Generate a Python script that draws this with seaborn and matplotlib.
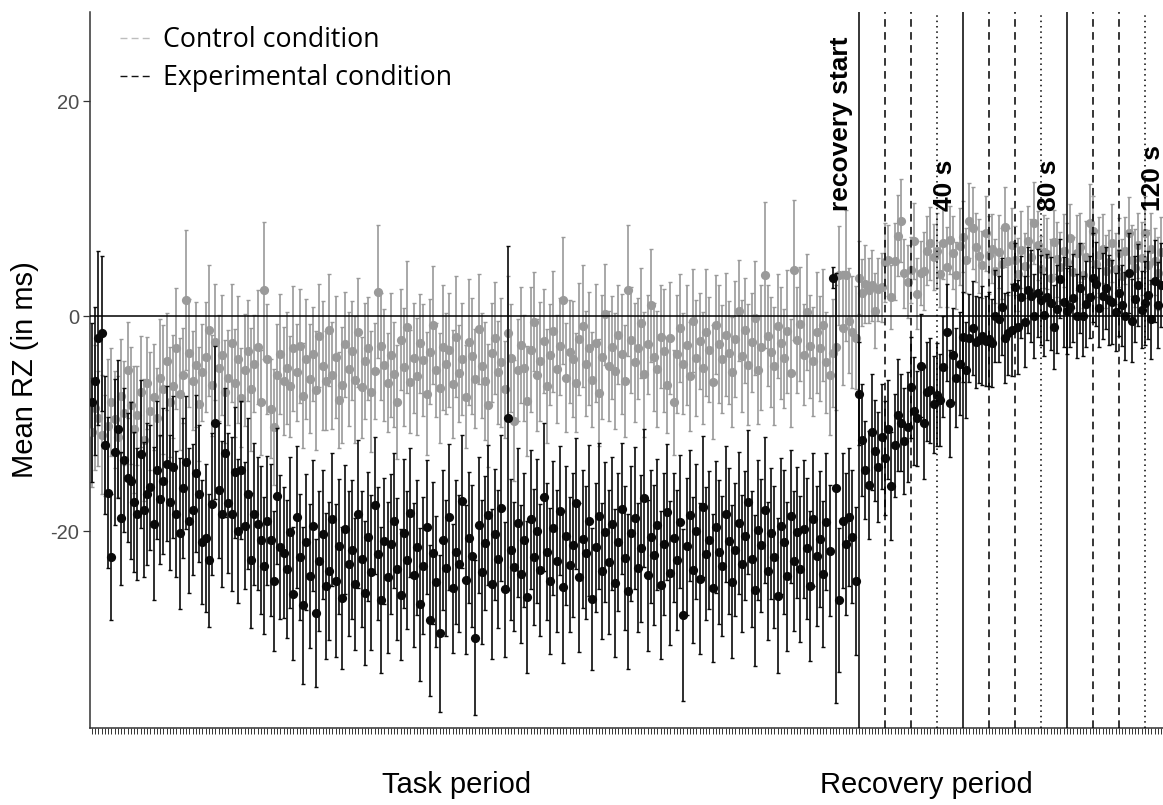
import numpy as np
import pandas as pd
import matplotlib
matplotlib.use("Agg")
import matplotlib.pyplot as plt
import seaborn as sns
from matplotlib.lines import Line2D
from matplotlib.font_manager import FontProperties

# ---------------- data ----------------
N_TASK = 236          # number of task-period samples
N_REC = 94            # number of recovery-period samples

control_mean_task = [
    -10.8, -8.5, -9.5, -11.0, -12.0, -10.2, -8.0, -9.6, -11.2, -7.4, -9.0, -5.0, -8.3, -10.5, -9.2, -7.0, -11.5, -6.2, -8.8, -7.5,
    -9.5, -5.7, -6.8, -4.2, -8.0, -6.5, -3.0, -7.2, -5.5, 1.5, -3.4, -6.0, -4.5, -8.2, -5.2, -3.8, -1.3, -6.4, -2.4, -4.8,
    -3.6, -7.0, -5.7, -2.5, -6.2, -4.0, -7.6, -5.0, -3.2, -6.8, -4.4, -2.9, -8.0, 2.4, -4.0, -8.6, -10.3, -5.5, -3.5, -6.0,
    -4.8, -6.5, -3.0, -5.2, -2.8, -7.4, -4.0, -5.8, -3.5, -6.9, -1.8, -4.6, -6.0, -1.3, -5.5, -3.8, -7.8, -6.4, -2.6, -4.9,
    -3.2, -5.9, -1.5, -6.6, -4.2, -3.0, -7.0, -5.1, 2.3, -2.8, -4.5, -6.2, -3.6, -5.4, -8.0, -2.2, -4.7, -1.0, -6.1, -3.9,
    -5.6, -2.5, -4.1, -7.2, -3.3, -0.8, -5.0, -6.7, -2.9, -4.4, -3.1, -6.3, -1.9, -5.3, -4.0, -7.5, -2.4, -3.7, -5.8, -1.2,
    -4.6, -6.0, -8.3, -3.4, -2.0, -5.2, -4.3, -6.8, -1.6, -3.9, -9.7, -5.0, -2.7, -4.8, -7.9, -3.1, -0.5, -5.5, -4.2, -2.3,
    -6.5, -3.6, -1.4, -4.9, -2.8, 1.5, -5.7, -3.3, -4.0, -6.2, -2.1, -0.9, -4.4, -3.0, -5.9, -2.5, -7.1, -3.8, 0.2, -4.6,
    -2.9, -5.1, -1.7, -3.5, -6.0, 2.4, -2.2, -4.3, -3.0, -0.6, -5.4, -2.6, 1.0, -3.8, -4.9, -1.9, -3.2, -6.4, -2.0, -8.0,
    -3.5, -1.1, -4.4, -2.7, -5.6, -0.4, -3.9, -2.3, -4.8, -1.5, -3.1, -6.1, -0.8, -2.6, -4.0, -1.7, -3.4, -5.2, -2.1, 0.5,
    -3.7, -1.3, -4.5, -2.4, -0.2, -5.0, -2.9, 3.8, -1.8, -3.3, -4.6, -0.9, -2.5, -3.9, -1.4, -5.3, 4.3, -2.2, -0.7, -3.6,
    0.4, -2.8, -4.2, -1.5, -3.0, -0.8, -4.3, -5.5, -3.4, -2.9, 3.8, -1.1, 3.8, -0.4, -1.5, -2.0,
]
control_mean_rec = [
    3.6, 2.2, 3.0, 2.4, 2.9, 0.5, 2.5, 2.7,
    5.0, 5.2, 1.8, 5.1, 7.5, 8.9, 4.0, 3.2,
    4.3, 7.0, 2.1, 4.0, 4.2, 6.1, 6.8, 5.5,
    6.1, 3.9, 6.8, 4.6, 7.1, 5.9, 3.8, 6.5,
    7.4, 5.2, 8.9, 8.2, 6.4, 5.6, 4.8, 7.7,
    5.7, 6.3, 4.2, 6.0, 4.9, 8.3, 5.1, 6.6,
    5.2, 3.9, 6.2, 4.7, 7.0, 5.5, 8.7, 6.6,
    4.4, 6.0, 5.8, 3.6, 6.9, 5.3, 4.6, 6.1,
    5.0, 7.3, 4.1, 5.9, 6.4, 3.8, 5.5, 8.7,
    7.9, 4.9, 5.7, 6.3, 4.2, 5.0, 6.8, 4.4,
    5.9, 3.7, 6.1, 7.7, 5.2, 4.5, 6.6, 5.4,
    7.7, 4.8, 6.3, 5.1, 4.0, 6.0,
]
control_se_task = [
    5.1, 5.8, 4.4, 5.5, 4.7, 6.2, 5.0, 4.5, 5.6, 5.3, 4.8, 4.5, 5.4, 5.9, 4.6, 5.2, 5.7, 4.3, 5.5, 4.9,
    4.7, 5.4, 6.0, 4.5, 5.1, 4.8, 5.6, 5.2, 4.4, 6.5, 5.0, 4.6, 5.8, 5.3, 4.5, 5.1, 6.1, 4.7, 5.4, 4.9,
    5.6, 4.8, 4.4, 5.5, 5.0, 5.9, 4.6, 5.2, 4.7, 5.7, 4.5, 5.3, 4.9, 6.4, 5.1, 4.6, 5.4, 4.8, 5.6, 5.0,
    5.2, 4.7, 5.8, 4.5, 5.3, 4.9, 5.6, 5.1, 4.4, 5.5, 4.8, 6.0, 4.6, 5.2, 5.0, 5.7, 4.5, 5.4, 4.9, 5.3,
    4.6, 5.9, 5.1, 4.7, 5.4, 4.8, 5.6, 4.5, 6.2, 5.0, 5.2, 4.6, 5.8, 4.9, 5.3, 4.7, 5.5, 6.1, 4.8, 5.1,
    5.4, 4.6, 5.2, 5.7, 4.9, 5.5, 4.4, 5.1, 5.8, 4.7, 5.3, 5.0, 5.6, 4.5, 5.2, 4.8, 5.9, 5.4, 4.6, 5.1,
    4.9, 5.5, 5.7, 4.6, 5.2, 4.8, 6.0, 4.5, 5.3, 5.0, 5.6, 4.7, 5.4, 4.9, 5.1, 5.8, 4.6, 5.2, 5.5, 4.8,
    5.3, 4.7, 5.6, 5.0, 4.5, 5.9, 5.1, 4.8, 5.4, 4.6, 5.2, 5.7, 4.9, 5.3, 4.4, 5.5, 5.0, 5.8, 4.7, 5.1,
    4.8, 5.4, 4.6, 5.6, 5.2, 6.1, 4.9, 5.5, 4.7, 5.1, 5.8, 4.6, 5.3, 5.0, 5.4, 4.8, 5.7, 4.5, 5.2, 4.9,
    5.5, 5.0, 4.7, 5.6, 5.1, 4.8, 5.4, 4.5, 5.2, 5.9, 4.9, 5.3, 4.6, 5.5, 5.0, 5.7, 4.8, 5.1, 5.4, 4.7,
    5.2, 4.9, 5.6, 4.6, 5.3, 5.0, 5.8, 6.8, 4.7, 5.1, 5.5, 4.8, 5.2, 4.6, 5.7, 5.0, 6.5, 4.9, 5.3, 4.7,
    5.4, 4.8, 5.1, 5.6, 4.9, 5.2, 4.7, 5.5, 5.0, 5.8, 4.6, 5.3, 6.1, 4.9, 5.2, 4.8,
]
control_se_rec = [
    3.4, 3.1, 3.6, 3.0, 3.3, 3.5, 2.9, 3.2,
    3.7, 3.3, 3.0, 3.6, 3.8, 3.9, 3.2, 3.4,
    3.1, 3.5, 3.3, 3.0, 3.6, 3.2, 3.4, 3.1,
    3.5, 3.0, 3.3, 3.7, 3.2, 3.4, 3.1, 3.6,
    3.3, 3.0, 3.5, 3.8, 3.2, 3.4, 3.1, 3.5,
    3.6, 3.2, 3.0, 3.4, 3.3, 3.7, 3.1, 3.5,
    3.2, 3.4, 3.6, 3.0, 3.3, 3.5, 3.8, 3.2,
    3.1, 3.4, 3.3, 3.6, 3.0, 3.5, 3.2, 3.4,
    3.7, 3.1, 3.3, 3.5, 3.2, 3.0, 3.4, 3.6,
    3.3, 3.1, 3.5, 3.2, 3.4, 3.0, 3.6, 3.3,
    3.2, 3.5, 3.1, 3.4, 3.3, 3.6, 3.0, 3.4,
    3.5, 3.2, 3.3, 3.1, 3.4, 3.2,
]

exp_mean_task = [
    -8.0, -6.0, -2.0, -1.6, -12.0, -16.4, -22.4, -12.6, -10.5, -18.8, -13.4, -15.0, -15.3, -17.3, -18.4, -12.8, -18.0, -16.5, -15.9, -19.3,
    -14.3, -17.0, -15.3, -13.7, -17.3, -14.0, -18.4, -20.2, -16.0, -13.6, -19.0, -18.0, -14.6, -16.5, -21.0, -20.6, -22.7, -17.5, -9.9, -16.2,
    -18.4, -12.7, -17.4, -18.4, -14.5, -20.0, -14.3, -19.5, -16.5, -22.7, -18.4, -19.3, -20.8, -23.2, -19.0, -20.8, -24.6, -16.7, -21.5, -22.0,
    -23.5, -20.1, -25.8, -18.7, -22.4, -26.9, -21.0, -24.2, -19.5, -27.6, -22.8, -20.3, -25.1, -23.7, -18.9, -24.6, -21.4, -26.2, -19.8, -23.0,
    -21.7, -24.9, -18.4, -22.6, -25.7, -20.5, -23.8, -17.6, -22.1, -26.4, -20.9, -24.3, -21.2, -19.0, -23.5, -25.9, -20.2, -22.7, -18.3, -24.1,
    -21.5, -26.8, -23.2, -19.6, -28.3, -22.0, -24.7, -29.5, -20.8, -23.4, -18.7, -25.3, -21.9, -23.0, -17.2, -24.5, -20.6, -22.3, -29.9, -19.4,
    -23.8, -21.1, -18.5, -24.9, -20.3, -22.6, -17.8, -25.4, -9.5, -21.7, -23.3, -19.2, -24.0, -20.8, -26.1, -18.9, -22.4, -20.0, -23.6, -16.8,
    -21.9, -24.6, -19.7, -22.8, -18.1, -25.2, -20.4, -23.1, -21.3, -17.4, -24.3, -20.7, -22.0, -19.0, -26.3, -21.5, -18.6, -23.7, -20.1, -22.9,
    -19.3, -24.8, -21.0, -17.9, -22.5, -25.6, -20.2, -18.8, -23.4, -21.6, -16.9, -24.1, -20.5, -22.2, -19.4, -25.0, -21.2, -18.2, -23.9, -20.6,
    -22.7, -19.1, -27.8, -21.4, -18.5, -23.6, -20.0, -24.4, -17.7, -22.1, -20.8, -25.3, -19.6, -21.9, -23.2, -18.4, -20.9, -24.7, -21.7, -19.2,
    -23.0, -20.4, -17.3, -22.6, -25.5, -19.9, -21.3, -18.0, -23.7, -20.2, -22.4, -26.0, -19.5, -21.0, -24.2, -18.6, -22.8, -20.1, -23.5, -19.8,
    -21.6, -25.1, -18.9, -22.3, -20.7, -24.0, -19.1, -21.8, 3.6, -16.0, -26.4, -19.0, -21.2, -18.7, -20.5, -24.6,
]
exp_mean_rec = [
    -7.2, -11.5, -14.3, -15.7, -10.8, -12.5, -14.0, -11.2,
    -13.2, -10.5, -15.8, -12.0, -9.2, -9.9, -11.6, -10.3,
    -6.6, -8.8, -9.5, -4.6, -9.9, -7.0, -6.9, -8.2,
    -7.3, -7.8, -4.7, -1.5, -8.1, -3.6, -5.7, -4.4,
    -1.9, -5.0, -2.0, -1.1, -2.4, -2.2, -1.8, -2.3,
    -2.1, -2.5, 0.0, -0.3, 0.9, -2.0, -1.6, -1.3,
    2.7, -1.0, 1.8, -0.5, 2.4, 1.9, 0.0, 2.2,
    1.5, 0.1, 1.8, 1.2, -1.0, 0.7, 3.5, 1.3,
    0.5, 0.9, 1.7, 0.0, 2.6, 0.0, 1.1, 1.8,
    3.6, 3.0, 0.8, 1.9, 2.6, 1.5, 1.3, 0.4,
    2.2, 1.0, 0.0, 4.0, -0.4, 1.6, 2.9, 0.6,
    1.2, 2.0, -0.3, 3.3, 1.0, 2.9,
]
exp_se_task = [
    7.4, 6.9, 8.1, 7.2, 6.4, 7.0, 5.9, 6.8, 6.4, 6.2, 6.7, 6.0, 7.3, 6.5, 6.1, 6.9, 6.3, 6.6, 5.8, 7.1,
    6.4, 6.0, 6.8, 7.2, 6.3, 6.6, 5.9, 7.0, 6.5, 6.2, 6.7, 6.1, 7.3, 6.4, 5.8, 6.9, 6.2, 6.6, 7.1, 6.3,
    6.8, 6.0, 6.5, 7.2, 6.1, 6.7, 6.4, 5.9, 7.0, 6.3, 6.6, 6.2, 6.9, 6.4, 6.0, 7.1, 6.5, 6.3, 6.7, 6.1,
    6.4, 7.0, 6.2, 6.6, 5.9, 7.3, 6.3, 6.7, 6.1, 6.9, 6.5, 6.0, 6.8, 6.4, 6.2, 7.1, 6.3, 6.6, 6.0, 6.7,
    6.5, 6.1, 6.9, 6.3, 6.7, 6.0, 7.2, 6.4, 6.2, 6.8, 5.9, 7.0, 6.5, 6.3, 6.6, 6.1, 6.9, 6.4, 6.0, 6.7,
    6.3, 7.1, 6.4, 6.2, 7.0, 6.6, 6.1, 7.3, 6.5, 6.3, 6.8, 6.0, 6.7, 6.4, 6.2, 6.9, 6.1, 6.6, 7.2, 6.3,
    6.7, 6.2, 6.5, 7.0, 6.1, 6.4, 6.8, 6.3, 16.0, 6.6, 6.0, 6.9, 6.4, 6.2, 7.1, 6.5, 6.3, 6.7, 6.1, 6.9,
    6.4, 6.8, 6.2, 6.6, 6.0, 7.1, 6.5, 6.3, 6.7, 6.1, 6.9, 6.4, 6.2, 7.0, 6.6, 6.0, 6.8, 6.3, 6.5, 6.7,
    6.2, 6.9, 6.4, 6.1, 6.7, 7.2, 6.3, 6.6, 6.0, 6.8, 6.4, 7.0, 6.2, 6.5, 6.1, 6.9, 6.6, 6.3, 6.7, 6.0,
    6.5, 6.2, 8.0, 6.4, 6.1, 6.8, 6.3, 7.0, 6.6, 6.2, 6.4, 6.9, 6.1, 6.7, 6.5, 6.3, 6.8, 7.1, 6.2, 6.6,
    6.4, 6.0, 6.7, 6.3, 7.0, 6.5, 6.2, 6.8, 6.4, 6.1, 6.6, 7.2, 6.3, 6.7, 6.9, 6.2, 6.5, 6.1, 6.8, 6.4,
    6.6, 7.0, 6.2, 6.5, 6.3, 6.8, 6.4, 6.1, 1.0, 20.0, 6.7, 6.3, 6.6, 6.4, 6.2, 6.9,
]
exp_se_rec = [
    4.8, 5.2, 4.6, 5.0, 5.4, 4.7, 5.1, 4.9,
    5.3, 4.6, 5.0, 4.8, 5.2, 4.5, 4.9, 5.1,
    4.7, 5.0, 4.4, 4.8, 5.2, 4.6, 4.9, 4.5,
    4.8, 4.3, 4.7, 4.5, 5.0, 4.4, 4.6, 4.8,
    4.2, 4.5, 4.1, 4.4, 4.3, 4.0, 4.6, 4.2,
    4.4, 4.1, 4.3, 4.0, 4.5, 4.2, 3.9, 4.3,
    4.1, 4.4, 3.8, 4.2, 4.0, 4.3, 3.9, 4.1,
    4.2, 3.8, 4.0, 4.3, 3.9, 4.1, 3.7, 4.2,
    4.0, 3.8, 4.1, 3.9, 4.2, 3.7, 4.0, 3.8,
    4.1, 3.9, 3.7, 4.0, 3.8, 4.2, 3.9, 3.6,
    4.0, 3.8, 4.1, 3.7, 3.9, 4.0, 3.8, 3.6,
    3.9, 4.1, 3.7, 3.8, 4.0, 3.9,
]

conditions = ["Control condition", "Experimental condition"]
colors = {"Control condition": "#9a9a9a", "Experimental condition": "#0a0a0a"}
legend_colors = {"Control condition": "#bdbdbd", "Experimental condition": "#111111"}

# recovery markers: every 10 s (8 samples) after recovery start
marker_seconds = [0, 10, 20, 30, 40, 50, 60, 70, 80, 90, 100, 110, 120]
samples_per_10s = 8
marker_labels = {0: "recovery start", 40: "40 s", 80: "80 s", 120: "120 s"}
ytick_vals = [-20, 0, 20]

for name, arr, n in [("control_mean_task", control_mean_task, N_TASK), ("control_se_task", control_se_task, N_TASK),
                     ("exp_mean_task", exp_mean_task, N_TASK), ("exp_se_task", exp_se_task, N_TASK),
                     ("control_mean_rec", control_mean_rec, N_REC), ("control_se_rec", control_se_rec, N_REC),
                     ("exp_mean_rec", exp_mean_rec, N_REC), ("exp_se_rec", exp_se_rec, N_REC)]:
    assert len(arr) == n, (name, len(arr))

n_total = N_TASK + N_REC
df = pd.DataFrame({
    "sample": list(range(n_total)) * 2,
    "mean": control_mean_task + control_mean_rec + exp_mean_task + exp_mean_rec,
    "se": control_se_task + control_se_rec + exp_se_task + exp_se_rec,
    "condition": [conditions[0]] * n_total + [conditions[1]] * n_total,
})

# ---------------- plot ----------------
sns.set_theme(style="ticks")
plt.rcParams["font.family"] = ["Liberation Sans", "DejaVu Sans"]
plt.rcParams["text.color"] = "black"
plt.rcParams["axes.labelcolor"] = "black"

W, H = 1163, 805
fig = plt.figure(figsize=(W / 100, H / 100), dpi=100)
ax = fig.add_axes([90 / W, 77 / H, 1073 / W, 716 / H])

for i, cond in enumerate(conditions):
    sub = df[df["condition"] == cond]
    ax.errorbar(sub["sample"], sub["mean"], yerr=sub["se"], fmt="none",
                ecolor=colors[cond], elinewidth=1.2, capsize=1.6, capthick=1.0,
                zorder=2 + 2 * i)
    sns.scatterplot(data=sub, x="sample", y="mean", color=colors[cond], s=44,
                    linewidth=0, legend=False, ax=ax, zorder=3 + 2 * i)

ax.axhline(0, color="black", lw=1.1, zorder=6)

rec0 = N_TASK
for sec in marker_seconds:
    xpos = rec0 + sec // 10 * samples_per_10s
    k = (sec // 10) % 4
    if k == 0:
        ls = "-"
    elif k == 3:
        ls = (0, (1, 2.5))
    else:
        ls = (0, (5, 3.5))
    ax.axvline(xpos, color="black", lw=1.1, linestyle=ls, zorder=7)
    if sec in marker_labels:
        ax.text(xpos - 5.5, 9.8, marker_labels[sec], rotation=90, ha="center",
                va="bottom", fontsize=19, fontweight="bold", color="black", zorder=8)

ax.set_xlim(-0.6, n_total - 0.4)
ax.set_ylim(-38.3, 28.3)
ax.set_xticks(range(n_total))
ax.set_xticklabels([])
ax.set_yticks(ytick_vals)
ax.set_yticklabels([str(v) for v in ytick_vals])
ax.tick_params(axis="x", length=4.5, width=0.7, color="#333333")
ax.tick_params(axis="y", length=5, width=0.9, color="#333333", labelsize=14.5,
               labelcolor="#4d4d4d", pad=3)
ax.set_xlabel("")
ax.set_ylabel("Mean RZ (in ms)", fontsize=21, color="black", labelpad=8)
sns.despine(ax=ax)
for sp in ["left", "bottom"]:
    ax.spines[sp].set_color("#333333")
    ax.spines[sp].set_linewidth(1.1)

fig.text(457 / W, 1 - 785 / H, "Task period", ha="center", va="center", fontsize=21, color="black")
fig.text(926 / W, 1 - 785 / H, "Recovery period", ha="center", va="center", fontsize=21, color="black")

handles = [Line2D([0], [0], color=legend_colors[c], lw=1.0, linestyle=(0, (5, 3))) for c in conditions]
leg = ax.legend(handles, conditions, loc="upper left", bbox_to_anchor=(0.028, 0.98),
                frameon=False, borderpad=0, borderaxespad=0,
                handlelength=1.14, handletextpad=0.45, labelspacing=0.36,
                prop=FontProperties(family="Open Sans", size=19.3))
for t in leg.get_texts():
    t.set_color("black")

fig.savefig("out.png", dpi=100, facecolor="white")
